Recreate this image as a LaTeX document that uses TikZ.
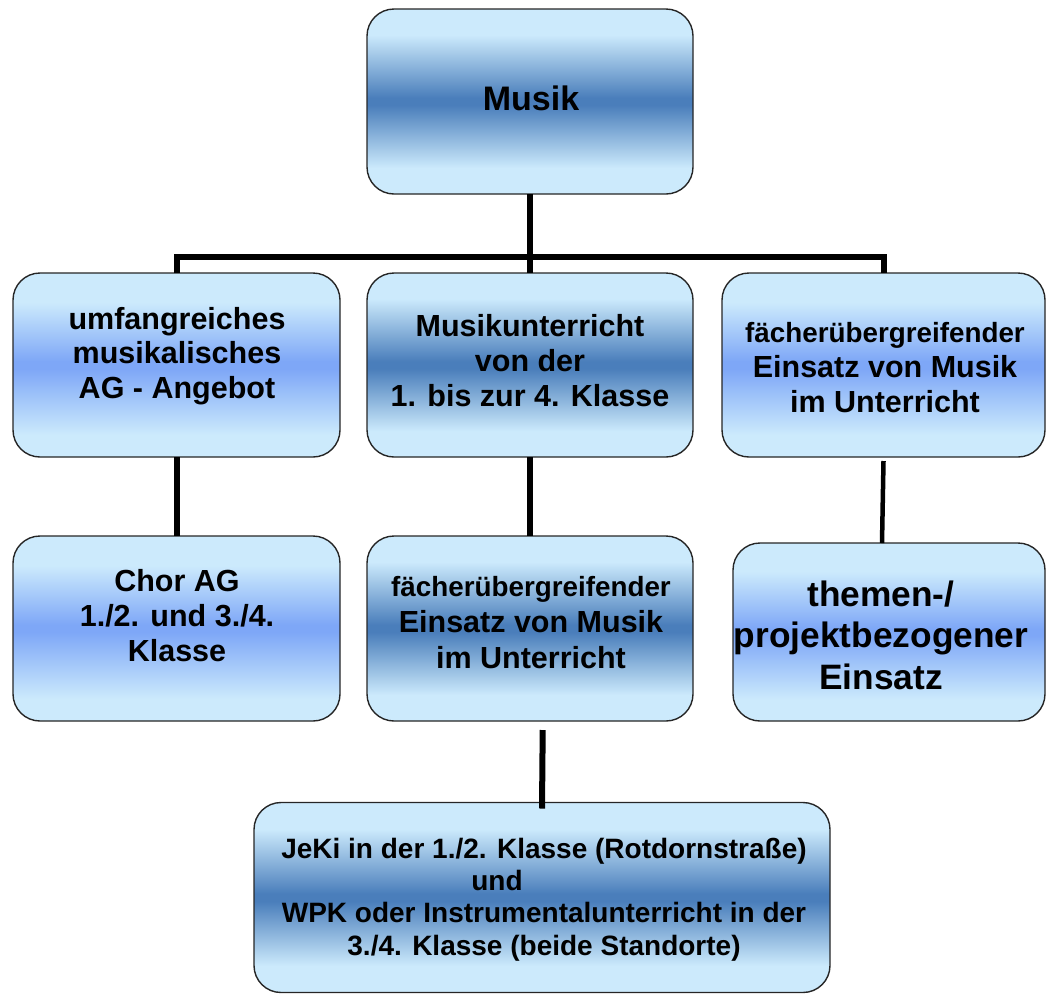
\documentclass[tikz,border=0pt]{standalone}
\usepackage{fontspec}
\setmainfont{Liberation Sans}

\definecolor{skylt}{RGB}{204,234,252}
\definecolor{bluedk}{RGB}{74,126,187}
\definecolor{bluemd}{RGB}{126,167,247}

% vertical colour bands: the middle 25bp..75bp part covers the box
\pgfdeclareverticalshading{darkband}{100bp}{color(0bp)=(skylt); color(25bp)=(skylt); color(32bp)=(skylt); color(49bp)=(bluedk); color(51bp)=(bluedk); color(68bp)=(skylt); color(75bp)=(skylt); color(100bp)=(skylt)}
\pgfdeclareverticalshading{lightband}{100bp}{color(0bp)=(skylt); color(25bp)=(skylt); color(31bp)=(skylt); color(49bp)=(bluemd); color(51bp)=(bluemd); color(67bp)=(skylt); color(75bp)=(skylt); color(100bp)=(skylt)}

\tikzset{
  box/.style={rectangle, draw=black!85, line width=1.4pt, rounded corners=27pt,
    inner sep=0pt, outer sep=0pt, shade},
  darkbox/.style={box, shading=darkband},
  lightbox/.style={box, shading=lightband},
  conn/.style={line width=6pt, draw=black},
  thinconn/.style={line width=4.5pt, draw=black},
  % anchored at the baseline of the last line
  lbl/.style={align=center, inner sep=0pt, anchor=base,
    font=\bfseries\fontsize{30.5}{35}\selectfont},
}

\begin{document}
\begin{tikzpicture}[x=1pt, y=-1pt]
  \useasboundingbox (0,0) rectangle (1046,994);

  % boxes
  \node[darkbox,  minimum width=326pt, minimum height=185pt] (musik) at (530,101.5) {};
  \node[lightbox, minimum width=327pt, minimum height=184pt] (l1) at (176.5,365) {};
  \node[darkbox,  minimum width=326pt, minimum height=184pt] (m1) at (530,365) {};
  \node[lightbox, minimum width=323pt, minimum height=184pt] (r1) at (883.5,365) {};
  \node[lightbox, minimum width=327pt, minimum height=185pt] (l2) at (176.5,628.5) {};
  \node[darkbox,  minimum width=326pt, minimum height=185pt] (m2) at (530,628.5) {};
  \node[lightbox, minimum width=312pt, minimum height=178pt] (r2) at (889,632) {};
  \node[darkbox,  minimum width=576pt, minimum height=190pt] (bot) at (542,897.5) {};

  % connectors
  \coordinate (bar) at (530,257);
  \draw[conn] (musik.south) -- (m1.north);
  \draw[conn] (l1.north) |- (bar) -| (r1.north);
  \draw[conn] (l1.south) -- (l2.north);
  \draw[conn] (m1.south) -- (m2.north);
  \draw[thinconn] ([yshift=-4pt]r1.south) -- ([xshift=-7pt]r2.north);
  \draw[conn] ([xshift=12.7pt, yshift=-9pt]m2.south) -- ([yshift=-6pt]bot.north);

  % texts
  \node[lbl, font=\bfseries\fontsize{34}{40}\selectfont] (tmusik) at (531,110) {Musik};
  \node[lbl, font=\bfseries\fontsize{30.5}{34.5}\selectfont] (tl1) at (177,398)
    {umfangreiches\\musikalisches\\AG - Angebot};
  \node[lbl, font=\bfseries\fontsize{30.5}{35.3}\selectfont] (tm1) at (530,406.7)
    {Musikunterricht\\von der\\1. bis zur 4. Klasse};
  \node[lbl] (tr1) at (885,412.7)
    {{\fontsize{27.8}{35}\selectfont fächerübergreifender}\\Einsatz von Musik\\im Unterricht};
  \node[lbl] (tl2) at (177,661.7)
    {Chor AG\\1./2. und 3./4.\\Klasse};
  \node[lbl, font=\bfseries\fontsize{30.5}{35.8}\selectfont] (tm2) at (531,668.3)
    {{\fontsize{27.8}{35}\selectfont fächerübergreifender}\\Einsatz von Musik\\im Unterricht};
  \node[lbl, font=\bfseries\fontsize{35.3}{41.6}\selectfont] (tr2) at (881,689.3)
    {themen-/\\projektbezogener\\Einsatz};
  \node[lbl, font=\bfseries\fontsize{28}{32.3}\selectfont] (tbot) at (544,955)
    {JeKi in der 1./2. Klasse (Rotdornstraße)\\und\hspace*{94pt}\mbox{}\\WPK oder Instrumentalunterricht in der\\3./4. Klasse (beide Standorte)};
\end{tikzpicture}
\end{document}
